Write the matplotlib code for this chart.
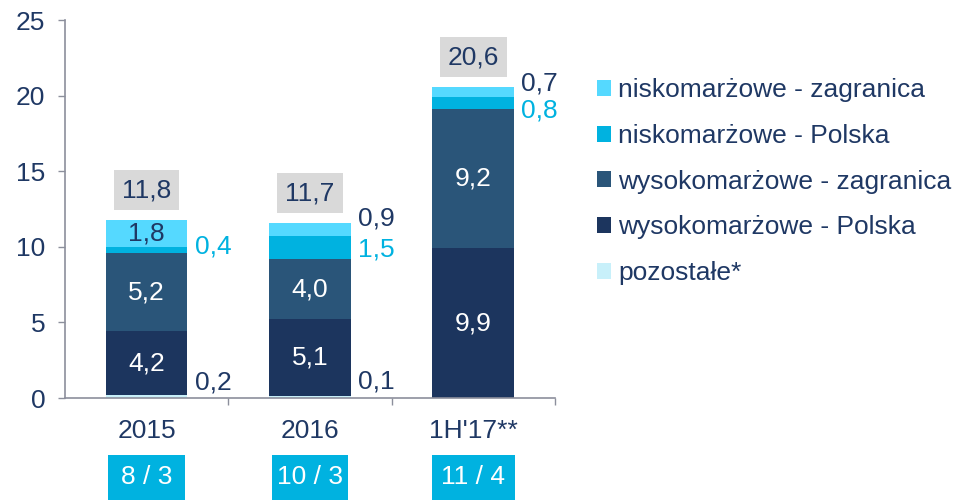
import matplotlib
matplotlib.use("Agg")
import matplotlib.pyplot as plt
from matplotlib.patches import Rectangle
from matplotlib.transforms import blended_transform_factory

plt.rcParams['font.family'] = ['Liberation Sans', 'DejaVu Sans']

categories = ["2015", "2016", "1H'17**"]
pozostale = [0.2, 0.1, 0.0]
wys_pl = [4.2, 5.1, 9.9]
wys_zag = [5.2, 4.0, 9.2]
nisk_pl = [0.4, 1.5, 0.8]
nisk_zag = [1.8, 0.9, 0.7]
totals = ["11,8", "11,7", "20,6"]
bottom_labels = ["8 / 3", "10 / 3", "11 / 4"]

series = [
    ("pozostałe*", pozostale, "#C8F0FA"),
    ("wysokomarżowe - Polska", wys_pl, "#1C355E"),
    ("wysokomarżowe - zagranica", wys_zag, "#2A5579"),
    ("niskomarżowe - Polska", nisk_pl, "#00B2E0"),
    ("niskomarżowe - zagranica", nisk_zag, "#55D9FF"),
]

NAVY = "#1F3864"
CYAN = "#00B2E0"
AX = "#8C8F9C"
FS = 19

def fmt(v):
    return f"{v:.1f}".replace(".", ",")

fig = plt.figure(figsize=(9.55, 5.0), dpi=100)
ax = fig.add_axes([0.068, 0.204, 0.513, 0.756])

x = list(range(len(categories)))
width = 0.5
bottoms = [0.0] * len(categories)
handles = {}
for name, vals, col in series:
    bars = ax.bar(x, vals, width, bottom=bottoms, color=col, label=name,
                  edgecolor='none', linewidth=0)
    handles[name] = bars
    bottoms = [b + v for b, v in zip(bottoms, vals)]

# inside labels
for i in x:
    b0 = pozostale[i]
    ax.text(i, b0 + wys_pl[i] / 2, fmt(wys_pl[i]), ha='center', va='center',
            color='white', fontsize=FS)
    b1 = b0 + wys_pl[i]
    ax.text(i, b1 + wys_zag[i] / 2, fmt(wys_zag[i]), ha='center', va='center',
            color='white', fontsize=FS)

# 2015 nisk_zag inside
b = pozostale[0] + wys_pl[0] + wys_zag[0] + nisk_pl[0]
ax.text(0, b + nisk_zag[0] / 2, fmt(nisk_zag[0]), ha='center', va='center',
        color=NAVY, fontsize=FS)

# right-side labels
rx = width / 2 + 0.045
ax.text(0 + rx, 10.0, fmt(nisk_pl[0]), ha='left', va='center', color=CYAN, fontsize=FS)
ax.text(0 + rx, 1.0, fmt(pozostale[0]), ha='left', va='center', color=NAVY, fontsize=FS)
ax.text(1 + rx, 11.9, fmt(nisk_zag[1]), ha='left', va='center', color=NAVY, fontsize=FS)
ax.text(1 + rx, 9.8, fmt(nisk_pl[1]), ha='left', va='center', color=CYAN, fontsize=FS)
ax.text(1 + rx, 1.1, fmt(pozostale[1]), ha='left', va='center', color=NAVY, fontsize=FS)
ax.text(2 + rx, 20.8, fmt(nisk_zag[2]), ha='left', va='center', color=NAVY, fontsize=FS)
ax.text(2 + rx, 19.0, fmt(nisk_pl[2]), ha='left', va='center', color=CYAN, fontsize=FS)

# totals in grey boxes
for i in x:
    ax.text(i, bottoms[i] + 1.95, totals[i], ha='center', va='center', color=NAVY,
            fontsize=FS,
            bbox=dict(boxstyle='square,pad=0.3', facecolor='#D9D9D9', edgecolor='none'))

# bottom cyan boxes
tr = blended_transform_factory(ax.transData, fig.transFigure)
bw = [0.47, 0.47, 0.51]
for i in x:
    ax.add_patch(Rectangle((i - bw[i] / 2, 0.0), bw[i], 0.09, transform=tr,
                           facecolor=CYAN, edgecolor='none', clip_on=False))
    ax.text(i, 0.045, bottom_labels[i], transform=tr, ha='center', va='center',
            color='white', fontsize=FS, clip_on=False)

ax.set_xlim(-0.5, 2.5)
ax.set_ylim(0, 25)
ax.set_yticks([0, 5, 10, 15, 20, 25])
ax.set_xticks(x)
ax.set_xticklabels(categories)
ax.set_xticks([0.5, 1.5, 2.5], minor=True)
ax.tick_params(axis='x', which='major', length=0, pad=15, labelsize=FS, labelcolor=NAVY)
ax.tick_params(axis='x', which='minor', length=5, width=1, color=AX, direction='out')
ax.tick_params(axis='y', length=5, width=1, color=AX, pad=9, labelsize=FS, labelcolor=NAVY)
for s in ['top', 'right']:
    ax.spines[s].set_visible(False)
for s in ['left', 'bottom']:
    ax.spines[s].set_color(AX)
    ax.spines[s].set_linewidth(1.2)

order = ["niskomarżowe - zagranica", "niskomarżowe - Polska", "wysokomarżowe - zagranica",
         "wysokomarżowe - Polska", "pozostałe*"]
leg = fig.legend([handles[n] for n in order], order, loc='upper left',
                 bbox_to_anchor=(0.625, 0.843), frameon=False, fontsize=FS,
                 handlelength=0.55, handleheight=0.55, handletextpad=0.25,
                 labelspacing=0.82, borderaxespad=0, borderpad=0)
for t in leg.get_texts():
    t.set_color(NAVY)

fig.savefig("out.png", dpi=100)
